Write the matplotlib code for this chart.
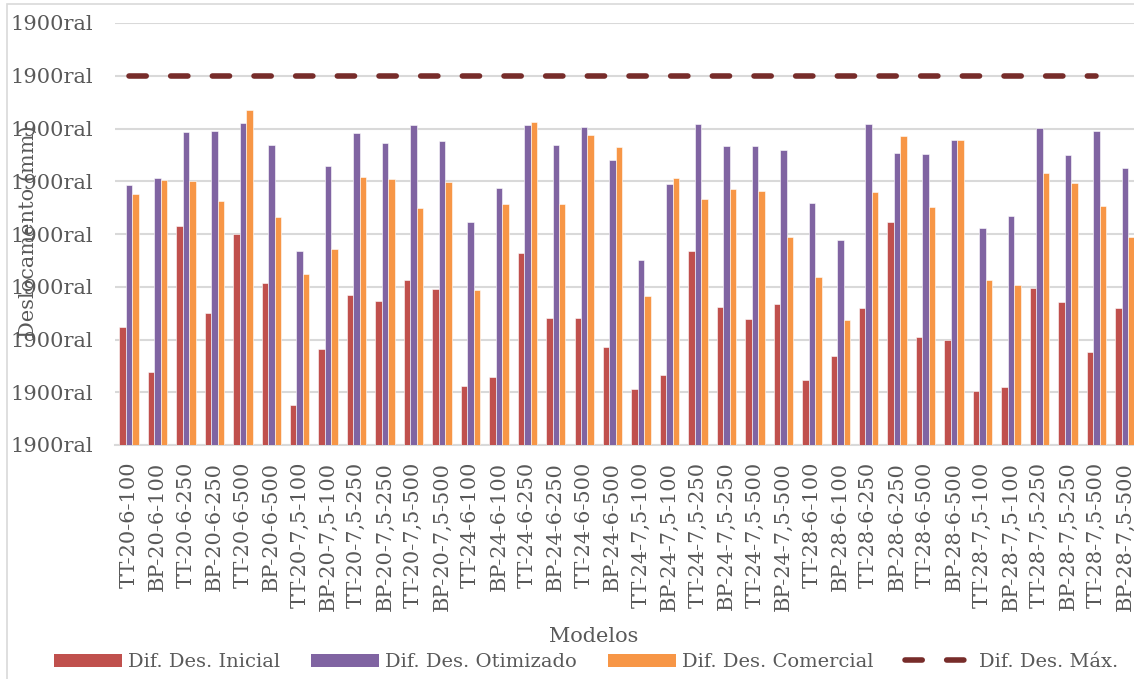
import matplotlib
matplotlib.use("Agg")
import matplotlib.pyplot as plt
import numpy as np
from matplotlib.patches import Rectangle, Patch
from matplotlib.lines import Line2D

categories = [
    "TT-20-6-100", "BP-20-6-100", "TT-20-6-250", "BP-20-6-250", "TT-20-6-500", "BP-20-6-500",
    "TT-20-7,5-100", "BP-20-7,5-100", "TT-20-7,5-250", "BP-20-7,5-250", "TT-20-7,5-500", "BP-20-7,5-500",
    "TT-24-6-100", "BP-24-6-100", "TT-24-6-250", "BP-24-6-250", "TT-24-6-500", "BP-24-6-500",
    "TT-24-7,5-100", "BP-24-7,5-100", "TT-24-7,5-250", "BP-24-7,5-250", "TT-24-7,5-500", "BP-24-7,5-500",
    "TT-28-6-100", "BP-28-6-100", "TT-28-6-250", "BP-28-6-250", "TT-28-6-500", "BP-28-6-500",
    "TT-28-7,5-100", "BP-28-7,5-100", "TT-28-7,5-250", "BP-28-7,5-250", "TT-28-7,5-500", "BP-28-7,5-500",
]

dif_inicial = [2.24, 1.38, 4.16, 2.50, 4.00, 3.07, 0.76, 1.82, 2.84, 2.73, 3.13, 2.96,
               1.11, 1.29, 3.64, 2.41, 2.40, 1.86, 1.06, 1.33, 3.68, 2.62, 2.39, 2.67,
               1.23, 1.69, 2.59, 4.22, 2.04, 2.00, 1.03, 1.10, 2.98, 2.72, 1.76, 2.59]
dif_otimizado = [4.92, 5.07, 5.94, 5.95, 6.11, 5.69, 3.68, 5.29, 5.91, 5.72, 6.07, 5.77,
                 4.23, 4.88, 6.06, 5.69, 6.02, 5.41, 3.50, 4.94, 6.09, 5.67, 5.67, 5.60,
                 4.59, 3.88, 6.09, 5.53, 5.51, 5.78, 4.11, 4.35, 6.01, 5.50, 5.95, 5.25]
dif_comercial = [4.75, 5.02, 5.00, 4.62, 6.36, 4.33, 3.25, 3.71, 5.08, 5.04, 4.49, 4.98,
                 2.94, 4.56, 6.13, 4.56, 5.88, 5.64, 2.82, 5.07, 4.67, 4.86, 4.81, 3.94,
                 3.18, 2.37, 4.80, 5.85, 4.51, 5.78, 3.12, 3.04, 5.16, 4.97, 4.53, 3.95]
dif_max = [7.0] * 35 + [np.nan]

ytick_values = [0, 1, 2, 3, 4, 5, 6, 7, 8]
ytick_labels = ["1900ral"] * 9

series_names = ["Dif. Des. Inicial", "Dif. Des. Otimizado", "Dif. Des. Comercial", "Dif. Des. Máx."]
colors = ["#C0504D", "#8064A2", "#F79646", "#772C2A"]

W, H = 1134, 679
fig = plt.figure(figsize=(W / 100, H / 100), dpi=100)
plt.rcParams['font.family'] = ['DejaVu Serif']
txt_color = "#595959"
fs = 15

# chart-area border
fig.patches.append(Rectangle((7 / W, -0.1), 1.2, 1 - 4 / H + 0.1, transform=fig.transFigure,
                             fill=False, edgecolor="#D9D9D9", linewidth=1.2, zorder=0))

ax_left, ax_right = 114.8, 1139.0
ax_top, ax_bot = 23.0, 445.0
ax = fig.add_axes([ax_left / W, 1 - ax_bot / H, (ax_right - ax_left) / W, (ax_bot - ax_top) / H])
ax.set_facecolor("none")

x = np.arange(len(categories))
bw = 0.227
for i, (vals, c) in enumerate(zip([dif_inicial, dif_otimizado, dif_comercial], colors[:3])):
    ax.bar(x + (i - 1) * bw, vals, width=bw, color=c, edgecolor="white", linewidth=0.4,
           zorder=3, label=series_names[i])
ax.plot(x, dif_max, color=colors[3], linewidth=4, dashes=(3.1, 4.4),
        dash_capstyle="round", solid_capstyle="round", zorder=4, label=series_names[3])

ax.set_xlim(-0.5, len(categories) - 0.5)
ax.set_ylim(0, 8)
ax.set_yticks(ytick_values)
ax.set_yticklabels(ytick_labels)
ax.set_xticks(x)
ax.set_xticklabels(categories, rotation=90)
ax.grid(axis="y", color="#D9D9D9", linewidth=1.5, zorder=0)
ax.set_axisbelow(True)
for s in ["top", "right", "left"]:
    ax.spines[s].set_visible(False)
ax.spines["bottom"].set_color("#D9D9D9")
ax.spines["bottom"].set_linewidth(1.5)
ax.tick_params(axis="both", length=0, labelsize=fs, labelcolor=txt_color)
ax.tick_params(axis="y", pad=16)
ax.tick_params(axis="x", pad=12)

fig.text(28 / W, 1 - 232 / H, "Deslocamento (mm)", rotation=90, ha="center", va="center",
         fontsize=fs, color=txt_color)
fig.text(594 / W, 1 - 637 / H, "Modelos", ha="center", va="center", fontsize=fs, color=txt_color)

fig.text(18 / W, 1 + 5 / H, "Figura 4 – Variação do deslocamento máximo para os modelos propostos",
         ha="left", va="baseline", fontsize=14, fontweight="bold", color="black")

lfs = 14
handles = [Patch(facecolor=c) for c in colors[:3]] + \
          [Line2D([0], [0], color=colors[3], linewidth=4, dashes=(3.1, 4.4), dash_capstyle="round")]
fig.legend(handles, series_names, loc="center", bbox_to_anchor=(586 / W, 1 - 662 / H), ncol=4,
           frameon=False, fontsize=lfs, labelcolor=txt_color, handlelength=3.5, handleheight=0.65,
           columnspacing=1.6, handletextpad=0.3, borderpad=0)

fig.savefig("out.png", dpi=100)
